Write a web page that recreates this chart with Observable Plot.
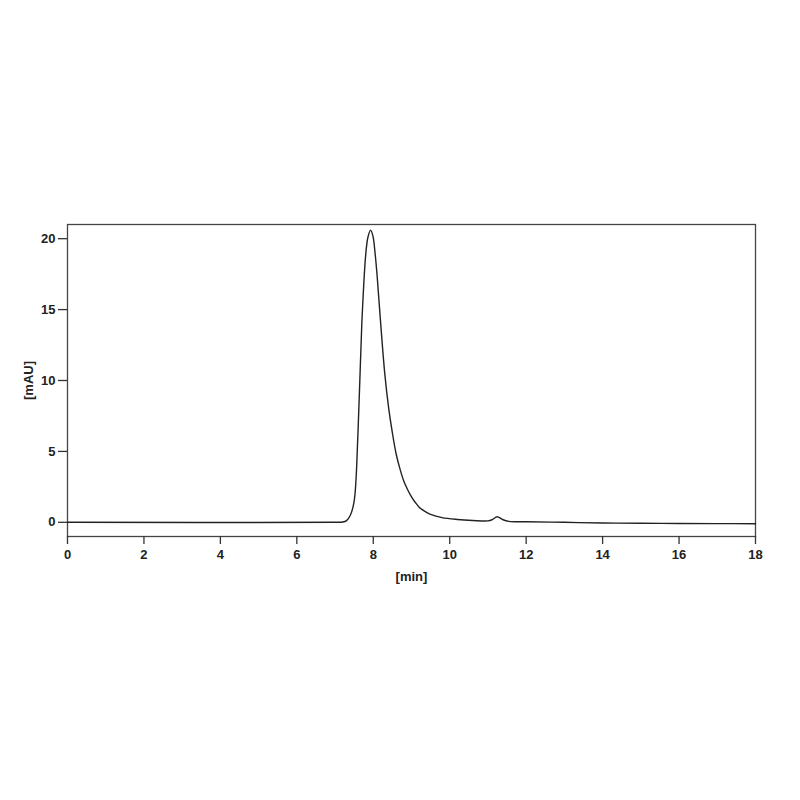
<!DOCTYPE html>
<html><head><meta charset="utf-8">
<script src="https://cdn.jsdelivr.net/npm/d3@7"></script>
<script src="https://cdn.jsdelivr.net/npm/@observablehq/plot@0.6"></script>
<style>body{margin:0;background:#fff}</style>
</head><body><div id="chart"></div>
<script>
const times = [0, 7.0, 7.2, 7.3, 7.4, 7.5, 7.6, 7.7, 7.8, 7.86, 7.93, 7.99, 8.05, 8.1, 8.2, 8.3, 8.4, 8.5, 8.6, 8.7, 8.8, 8.9, 9.0, 9.1, 9.2, 9.35, 9.5, 9.8, 10.2, 10.6, 11.0, 11.12, 11.24, 11.38, 11.55, 12, 13, 14, 15, 16, 17, 18];
const values = [0, 0, 0.02, 0.12, 0.5, 1.5, 6.3, 14.0, 18.8, 20.1, 20.6, 20.2, 18.9, 17.4, 13.8, 10.5, 8.1, 6.3, 4.8, 3.75, 2.9, 2.3, 1.8, 1.4, 1.07, 0.77, 0.56, 0.33, 0.2, 0.13, 0.1, 0.2, 0.39, 0.2, 0.07, 0.04, 0.0, -0.05, -0.07, -0.08, -0.09, -0.1];
const xTicks = [0, 2, 4, 6, 8, 10, 12, 14, 16, 18];
const yTicks = [0, 5, 10, 15, 20];
const data = times.map((t, i) => ({t, v: values[i]}));

const chart = Plot.plot({
  width: 800, height: 800,
  marginLeft: 67, marginRight: 45, marginTop: 224, marginBottom: 264,
  style: {fontFamily: "Liberation Sans, Arial, sans-serif", fontSize: "13px", fontWeight: "bold", color: "#222"},
  x: {domain: [0, 18]},
  y: {domain: [-1, 21]},
  marks: [
    Plot.frame({stroke: "#444", strokeWidth: 1.3}),
    Plot.axisX({ticks: xTicks, tickSize: 8, tickPadding: 5, label: "[min]", labelAnchor: "center", labelArrow: "none", labelOffset: 44, stroke: "#333", strokeWidth: 1.3}),
    Plot.axisY({ticks: yTicks, tickSize: 9, tickPadding: 3, label: "[mAU]", labelAnchor: "center", labelArrow: "none", labelOffset: 44, stroke: "#333", strokeWidth: 1.3}),
    Plot.line(data, {x: "t", y: "v", curve: "catmull-rom", stroke: "#222", strokeWidth: 1.4})
  ]
});
document.getElementById("chart").appendChild(chart);
</script>
</body></html>
